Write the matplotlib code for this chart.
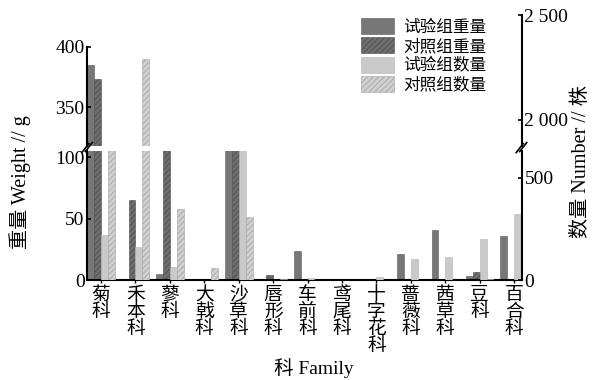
import matplotlib
matplotlib.use("Agg")
import matplotlib.pyplot as plt
from matplotlib.lines import Line2D
import numpy as np

plt.rcParams['font.family'] = ['Liberation Serif', 'Noto Sans CJK SC']
plt.rcParams['hatch.linewidth'] = 0.6

# data
families = ['菊科', '禾本科', '蓼科', '大戟科', '沙草科', '唇形科', '车前科',
            '鸢尾科', '十字花科', '蔷薇科', '茜草科', '豆科', '百合科']
exp_weight = [385, 0, 5, 0, 150, 0, 24, 0, 0, 21, 41, 3.5, 36]
ctl_weight = [373, 65, 200, 1, 150, 4, 0, 0, 0, 0, 0, 7, 0]
exp_number = [220, 161, 66, 0, 1000, 0, 10, 3, 14, 102, 115, 200, 321]
ctl_number = [1000, 2290, 346, 60, 307, 5, 0, 0, 0, 0, 0, 5, 0]
series_labels = ['试验组重量', '对照组重量', '试验组数量', '对照组数量']

W, H = 601, 380
fig = plt.figure(figsize=(W / 100, H / 100), dpi=100)

def fx(px):
    return px / W

def fy(py):
    return 1 - py / H

x_left, x_right = 87.3, 521.7
low_top, low_bot = 151, 280.3
up_top, up_bot = 15, 145.7

ax_lo = fig.add_axes([fx(x_left), fy(low_bot), fx(x_right - x_left), (low_bot - low_top) / H])
ax_hi = fig.add_axes([fx(x_left), fy(up_bot), fx(x_right - x_left), (up_bot - up_top) / H])
ax_lo2 = ax_lo.twinx()
ax_hi2 = ax_hi.twinx()

x = np.arange(len(families))
bw = 0.2
styles = [
    dict(color='#777777', edgecolor='#5a5a5a', linewidth=0.4),
    dict(color='#6e6e6e', edgecolor='#4e4e4e', linewidth=0.4, hatch='//////'),
    dict(color='#c9c9c9', edgecolor='#b5b5b5', linewidth=0.4),
    dict(color='#d0d0d0', edgecolor='#a5a5a5', linewidth=0.4, hatch='//////'),
]

handles = []
for aw, an in [(ax_lo, ax_lo2), (ax_hi, ax_hi2)]:
    h0 = aw.bar(x, exp_weight, bw, align='edge', **styles[0])
    h1 = aw.bar(x + bw, ctl_weight, bw, align='edge', **styles[1])
    h2 = an.bar(x + 2 * bw, exp_number, bw, align='edge', **styles[2])
    h3 = an.bar(x + 3 * bw, ctl_number, bw, align='edge', **styles[3])
    if not handles:
        handles = [h0, h1, h2, h3]

xmax = 12.62
for a in [ax_lo, ax_hi, ax_lo2, ax_hi2]:
    a.set_xlim(0, xmax)
    a.spines['top'].set_visible(False)
    for s in a.spines.values():
        s.set_linewidth(1.5)
    a.tick_params(axis='y', direction='in', length=3, width=1.2, labelsize=14, pad=2)

# weight axes keep the left spine, number axes the right one
for a in [ax_lo, ax_hi]:
    a.spines['right'].set_visible(False)
for a in [ax_lo2, ax_hi2]:
    a.spines['left'].set_visible(False)

# lower section
ax_lo.set_ylim(0, 105)
ax_lo.set_yticks([0, 50, 100])
ax_lo2.set_ylim(0, 629)
ax_lo2.set_yticks([0, 500])
ax_lo.set_xticks(x + 2 * bw)
ax_lo.set_xticklabels(['\n'.join(f) for f in families], fontsize=13.5, linespacing=0.98, va='top')
ax_lo.tick_params(axis='x', direction='out', length=2, width=1, pad=3)
ax_lo2.spines['bottom'].set_visible(False)

# upper section
ax_hi.set_ylim(318, 426.3)
ax_hi.set_yticks([350, 400])
ax_hi.spines['left'].set_bounds(318, 400)
ax_hi2.set_ylim(1876, 2500)
ax_hi2.set_yticks([2000, 2500])
ax_hi2.set_yticklabels(['2 000', '2 500'])
for a in [ax_hi, ax_hi2]:
    a.spines['bottom'].set_visible(False)
    a.tick_params(axis='x', bottom=False, labelbottom=False)
ax_hi.patch.set_visible(False)

# break marks
for xc in [x_left, x_right]:
    for dx in [-2.0, 1.5]:
        fig.add_artist(Line2D([fx(xc + dx - 3.5), fx(xc + dx + 3.5)],
                              [fy(152 - dx * 0.3), fy(143 - dx * 0.3)],
                              color='black', linewidth=1.2))

fig.legend(handles, series_labels, loc='upper left', bbox_to_anchor=(fx(361), fy(18)),
           frameon=False, fontsize=12, handlelength=2.0, handleheight=1.1,
           labelspacing=0.1, handletextpad=0.55, borderpad=0, borderaxespad=0)

fig.text(fx(20), fy(182), '重量 Weight // g', rotation=90, ha='center', va='center', fontsize=14.5)
fig.text(fx(581), fy(162), '数量 Number // 株', rotation=90, ha='center', va='center', fontsize=14.5)
fig.text(fx(314), fy(368), '科 Family', ha='center', va='center', fontsize=14)

fig.savefig('out.png', dpi=100)
